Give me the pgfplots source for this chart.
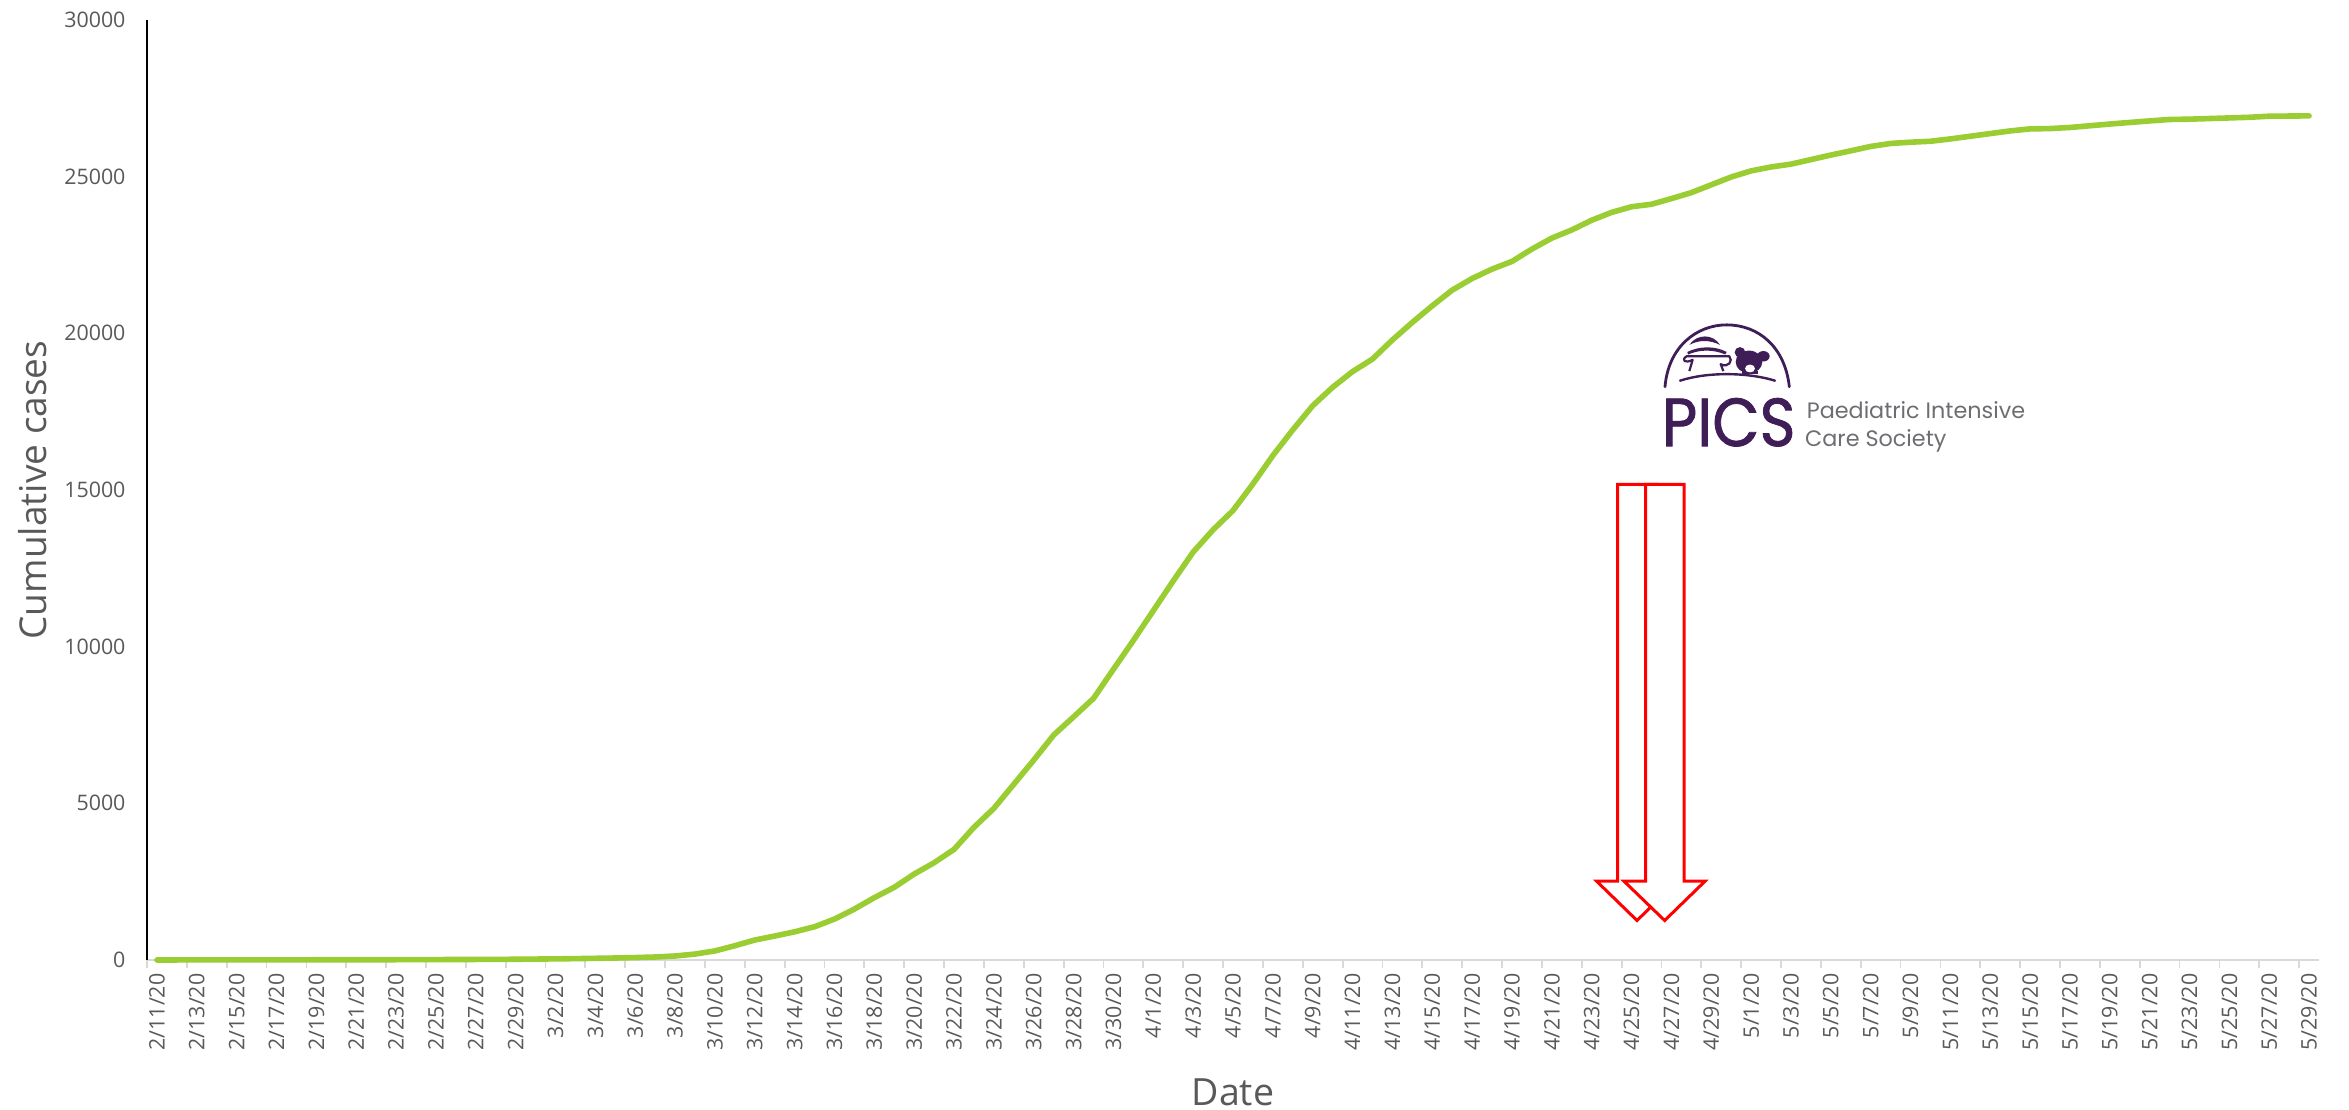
\documentclass[border=0pt]{standalone}
\usepackage{pgfplots}
\usepackage{fontspec}
\pgfplotsset{compat=1.18}
\setmainfont{Open Sans}
\newfontfamily\logofont{Poppins}
\newfontfamily\logoheavy[FakeBold=1.2]{Poppins}
\definecolor{txtgrey}{HTML}{595959}
\definecolor{axisgrey}{HTML}{D9D9D9}
\definecolor{curve}{HTML}{9ACD32}
\definecolor{logopurple}{HTML}{3F1D56}
\definecolor{logogrey}{HTML}{6D6E71}
\begin{document}
\begin{tikzpicture}
\useasboundingbox (0pt,0pt) rectangle (2349pt,-1110pt);
\begin{axis}[
  at={(147pt,-960pt)}, anchor=south west,
  width=2172pt, height=940pt, scale only axis,
  xmin=-0.5, xmax=108.5, ymin=0, ymax=30000,
  clip=false,
  axis x line*=bottom, axis y line*=left,
  x axis line style={-, draw=axisgrey, line width=2.4pt},
  y axis line style={-, draw=black, line width=2pt},
  xtick={0,2,...,108},
  xticklabels={2/11/20,2/13/20,2/15/20,2/17/20,2/19/20,2/21/20,2/23/20,2/25/20,2/27/20,2/29/20,
    3/2/20,3/4/20,3/6/20,3/8/20,3/10/20,3/12/20,3/14/20,3/16/20,3/18/20,3/20/20,3/22/20,3/24/20,3/26/20,3/28/20,3/30/20,
    4/1/20,4/3/20,4/5/20,4/7/20,4/9/20,4/11/20,4/13/20,4/15/20,4/17/20,4/19/20,4/21/20,4/23/20,4/25/20,4/27/20,4/29/20,
    5/1/20,5/3/20,5/5/20,5/7/20,5/9/20,5/11/20,5/13/20,5/15/20,5/17/20,5/19/20,5/21/20,5/23/20,5/25/20,5/27/20,5/29/20},
  minor xtick={-0.5,1.5,...,107.5},
  ytick={0,5000,...,30000},
  scaled y ticks=false,
  major tick length=0pt,
  minor tick length=8pt,
  tick align=outside,
  minor tick style={draw=axisgrey, line width=1.8pt},
  tick label style={font=\fontsize{21.4pt}{24pt}\selectfont, text=txtgrey},
  x tick label style={rotate=90, anchor=east},
  xticklabel shift=10pt,
  y tick label style={anchor=east, xshift=-18pt},
  /pgf/number format/.cd, 1000 sep={}, assume math mode=true,
  /pgfplots/.cd,
  xlabel={Date},
  ylabel={Cumulative cases},
  xlabel style={at={(axis description cs:0.5,-0.1404)}, anchor=center, font=\fontsize{37.5pt}{42pt}\selectfont, text=txtgrey},
  ylabel style={at={(axis description cs:-0.0525,0.5)}, anchor=center, font=\fontsize{37pt}{42pt}\selectfont, text=txtgrey},
]
% cumulative cases per day, starting 2/11/20
\addplot[curve, line width=5.6pt, line cap=round, line join=round] coordinates {
(0,2)(1,2)(2,3)(3,3)(4,3)(5,5)(6,5)(7,6)(8,7)(9,8)(10,8)(11,9)(12,10)(13,12)(14,14)(15,16)(16,18)(17,20)(18,24)(19,30)
(20,36)(21,44)(22,54)(23,64)(24,78)(25,96)(26,128)(27,190)(28,290)(29,456)(30,638)(31,765)(32,900)(33,1062)(34,1307)(35,1626)
(36,1990)(37,2320)(38,2744)(39,3105)(40,3530)(41,4235)(42,4840)(43,5610)(44,6380)(45,7180)(46,7760)(47,8350)(48,9280)(49,10200)
(50,11150)(51,12100)(52,13020)(53,13730)(54,14345)(55,15195)(56,16100)(57,16920)(58,17690)(59,18280)(60,18780)(61,19180)
(62,19790)(63,20350)(64,20880)(65,21380)(66,21750)(67,22050)(68,22295)(69,22690)(70,23040)(71,23300)(72,23610)(73,23860)
(74,24040)(75,24120)(76,24300)(77,24490)(78,24740)(79,24990)(80,25185)(81,25310)(82,25400)(83,25545)(84,25690)(85,25825)
(86,25965)(87,26060)(88,26100)(89,26130)(90,26205)(91,26290)(92,26375)(93,26460)(94,26525)(95,26535)(96,26570)(97,26625)
(98,26680)(99,26730)(100,26780)(101,26825)(102,26835)(103,26855)(104,26875)(105,26895)(106,26930)(107,26935)(108,26940)
};
\end{axis}

% two overlapping block arrows and the society's emblem
\begin{scope}[shift={(1550pt,-290pt)}, x=0.3333pt, y=-0.436pt]
  \begin{scope}[yshift=2.6pt]
  \draw[red, line width=3pt, miter limit=10, fill=white]
    (203,452) -- (319,452) -- (319,1362) -- (382,1362) -- (261,1452) -- (140,1362) -- (203,1362) -- cycle;
  \draw[red, line width=3pt, miter limit=10, fill=white]
    (287,452) -- (402,452) -- (402,1362) -- (465,1362) -- (344,1452) -- (222,1362) -- (287,1362) -- cycle;
  \end{scope}

  % dome and ground line
  \draw[logopurple, line width=2.8pt, line cap=round]
    (345,222) .. controls (355,130) and (440,80) .. (530,80) .. controls (625,80) and (705,130) .. (718,222);
  \draw[logopurple, line width=2.4pt, line cap=round]
    (390,208) .. controls (470,188) and (590,188) .. (675,208);
  % covered cot
  \draw[logopurple, line width=2.2pt, line join=round]
    (418,186) -- (428,160) .. controls (405,170) and (392,160) .. (410,152) -- (538,152) .. controls (550,162) and (535,180) .. (512,170) -- (520,186);
  \fill[logopurple] (418,126) .. controls (440,100) and (490,100) .. (510,126) .. controls (480,114) and (445,114) .. (418,126);
  \fill[logopurple] (412,142) .. controls (450,128) and (495,128) .. (530,142) -- (526,148) .. controls (490,136) and (450,136) .. (414,148) -- cycle;
  % teddy bear
  \fill[logopurple] (597,165) ellipse [x radius=40, y radius=26];
  \fill[logopurple] (570,143) ellipse [x radius=16, y radius=12];
  \fill[logopurple] (640,152) ellipse [x radius=19, y radius=12];
  \fill[logopurple] (575,186) rectangle (625,192);
  \fill[white] (600,180) ellipse [x radius=15, y radius=9];

  \node[anchor=base west, inner sep=0pt, text=logopurple, xscale=0.9] at (335,358)
    {\logoheavy\fontsize{68pt}{68pt}\selectfont PICS};
  \node[anchor=base west, inner sep=0pt, text=logogrey] at (770,295)
    {\logofont\fontsize{22.3pt}{24pt}\selectfont Paediatric Intensive};
  \node[anchor=base west, inner sep=0pt, text=logogrey] at (765,358)
    {\logofont\fontsize{22.3pt}{24pt}\selectfont Care Society};
\end{scope}
\end{tikzpicture}
\end{document}
